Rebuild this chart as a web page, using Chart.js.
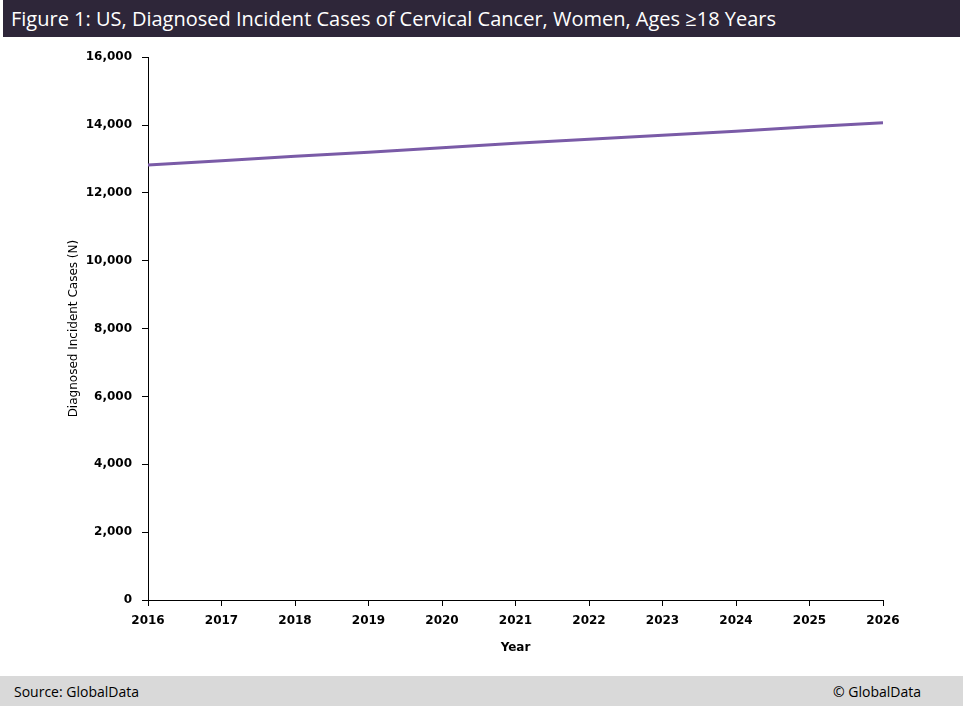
<!DOCTYPE html>
<html>
<head>
<meta charset="utf-8">
<script src="https://cdn.jsdelivr.net/npm/chart.js@4.4.0/dist/chart.umd.min.js"></script>
<style>
  body { margin: 0; width: 963px; height: 706px; background: #fff; position: relative; overflow: hidden; }
  #title { position: absolute; left: 3px; top: 0; width: 957px; height: 37px; background: #2e2639; color: #fff;
           font-family: 'Open Sans', sans-serif; font-size: 20px; line-height: 38px; padding-left: 8px; box-sizing: border-box; }
  #wrap { position: absolute; left: 0; top: 40px; width: 963px; height: 630px; }
  #footer { position: absolute; left: 0; top: 676px; width: 963px; height: 30px; background: #d9d9d9;
            font-family: 'Open Sans', sans-serif; font-size: 14px; line-height: 31px; color: #000; }
  #footer .l { position: absolute; left: 14px; }
  #footer .r { position: absolute; right: 42px; }
</style>
</head>
<body>
<div id="title">Figure 1: US, Diagnosed Incident Cases of Cervical Cancer, Women, Ages ≥18 Years</div>
<div id="wrap"><canvas id="chart"></canvas></div>
<div id="footer"><span class="l">Source: GlobalData</span><span class="r">© GlobalData</span></div>
<script>
// 데이터
const years = ['2016', '2017', '2018', '2019', '2020', '2021', '2022', '2023', '2024', '2025', '2026'];
const cases = [12820, 12950, 13080, 13200, 13330, 13460, 13580, 13700, 13820, 13950, 14070];
const yTicks = [0, 2000, 4000, 6000, 8000, 10000, 12000, 14000, 16000];

const tickFont = { family: 'DejaVu Sans', size: 12, weight: 'bold' };

new Chart(document.getElementById('chart'), {
    type: 'line',
    data: {
        labels: years,
        datasets: [{
            data: cases,
            borderColor: '#7a5ba7',
            borderWidth: 3,
            pointRadius: 0,
            tension: 0
        }]
    },
    options: {
        responsive: true,
        maintainAspectRatio: false,
        animation: false,
        layout: { padding: { top: 17, right: 80, bottom: 11, left: 67 } },
        plugins: { legend: { display: false }, tooltip: { enabled: false } },
        scales: {
            x: {
                offset: false,
                grid: { drawOnChartArea: false, drawTicks: true, tickLength: 6, color: '#000' },
                border: { color: '#000', width: 1 },
                ticks: { color: '#000', font: tickFont, maxRotation: 0, padding: 8 },
                title: { display: true, text: 'Year', color: '#000', font: tickFont, padding: { top: 9 } },
                afterFit: function (scale) { scale.height = 59; }
            },
            y: {
                min: 0,
                max: 16000,
                afterBuildTicks: function (scale) { scale.ticks = yTicks.map(v => ({ value: v })); },
                grid: { drawOnChartArea: false, drawTicks: true, tickLength: 6, color: '#000' },
                border: { color: '#000', width: 1 },
                ticks: {
                    color: '#000', font: tickFont, padding: 10,
                    callback: v => v.toLocaleString('en-US')
                },
                title: { display: true, text: 'Diagnosed Incident Cases (N)', color: '#000',
                         font: { family: 'DejaVu Sans', size: 12 }, padding: 0 },
                afterFit: function (scale) { scale.width = 81; }
            }
        }
    }
});
</script>
</body>
</html>
